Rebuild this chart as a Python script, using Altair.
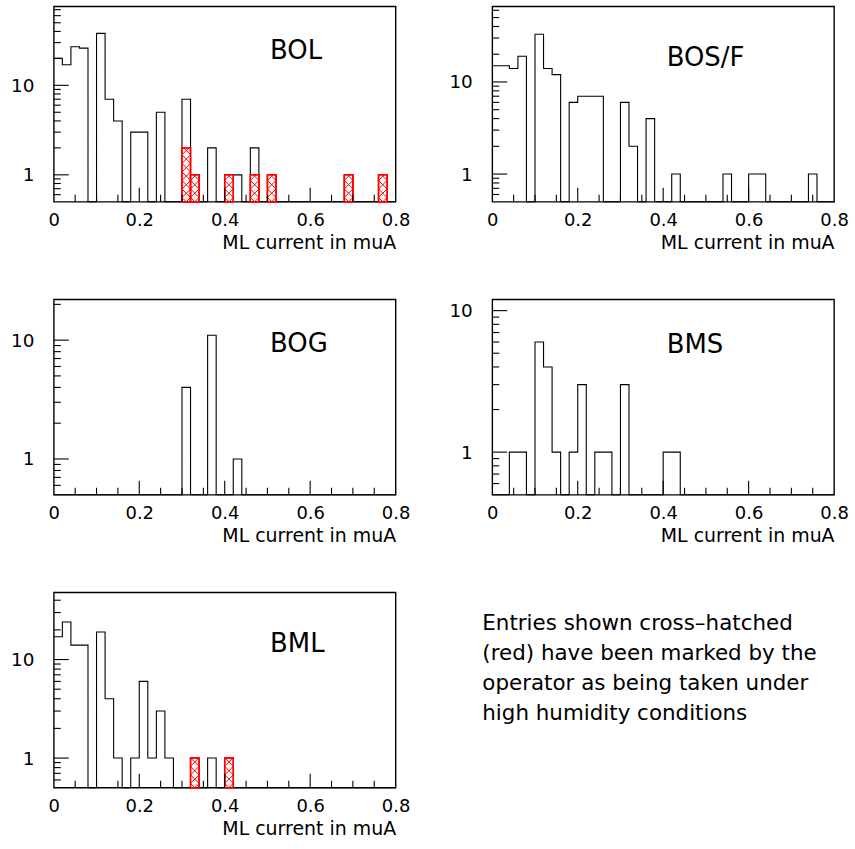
import altair as alt
import numpy as np
import pandas as pd

# ---- histogram contents: 40 bins of 0.02 muA between 0 and 0.8 ----
bin_width = 0.02
n_bins = 40

bol_counts = [20, 17, 27, 26, 0, 38, 7, 4, 0, 3,
              3, 0, 5, 0, 0, 7, 1, 0, 2, 0,
              1, 1, 0, 2, 0, 1, 0, 0, 0, 0,
              0, 0, 0, 0, 1, 0, 0, 0, 1, 0]
bol_humid = [0, 0, 0, 0, 0, 0, 0, 0, 0, 0,
             0, 0, 0, 0, 0, 2, 1, 0, 0, 0,
             1, 0, 0, 1, 0, 1, 0, 0, 0, 0,
             0, 0, 0, 0, 1, 0, 0, 0, 1, 0]

bosf_counts = [15, 15, 14, 19, 0, 33, 14, 12, 0, 6,
               7, 7, 7, 0, 0, 6, 2, 0, 4, 0,
               0, 1, 0, 0, 0, 0, 0, 1, 0, 0,
               1, 1, 0, 0, 0, 0, 0, 1, 0, 0]

bog_counts = [0, 0, 0, 0, 0, 0, 0, 0, 0, 0,
              0, 0, 0, 0, 0, 4, 0, 0, 11, 0,
              0, 1, 0, 0, 0, 0, 0, 0, 0, 0,
              0, 0, 0, 0, 0, 0, 0, 0, 0, 0]

bms_counts = [0, 0, 1, 1, 0, 6, 4, 1, 0, 1,
              3, 0, 1, 1, 0, 3, 0, 0, 0, 0,
              1, 1, 0, 0, 0, 0, 0, 0, 0, 0,
              0, 0, 0, 0, 0, 0, 0, 0, 0, 0]

bml_counts = [17, 24, 14, 14, 0, 19, 4, 1, 0, 1,
              6, 1, 3, 1, 0, 0, 1, 0, 1, 0,
              1, 0, 0, 0, 0, 0, 0, 0, 0, 0,
              0, 0, 0, 0, 0, 0, 0, 0, 0, 0]
bml_humid = [0, 0, 0, 0, 0, 0, 0, 0, 0, 0,
             0, 0, 0, 0, 0, 0, 1, 0, 0, 0,
             1, 0, 0, 0, 0, 0, 0, 0, 0, 0,
             0, 0, 0, 0, 0, 0, 0, 0, 0, 0]

no_humid = [0] * n_bins

x_labels = [0, 0.2, 0.4, 0.6, 0.8]
x_minor = [0.05, 0.1, 0.15, 0.25, 0.3, 0.35, 0.45, 0.5, 0.55, 0.65, 0.7, 0.75]
y_labels = [1, 10]
y_minor = [0.6, 0.7, 0.8, 0.9, 2, 3, 4, 5, 6, 7, 8, 9, 20, 30, 40, 50, 60, 70, 80, 90]

note_lines = ["Entries shown cross\u2013hatched",
              "(red) have been marked by the",
              "operator as being taken under",
              "high humidity conditions"]

x_title = "ML current in muA"

# ---- drawing parameters ----
W, H = 343, 196
FONT = "DejaVu Sans"
YMIN = 0.5


def hatch_table(lo, hi, count, ymax):
    """Cross-hatch segments for one flagged bin, returned in data units."""
    w = W * (hi - lo) / 0.8
    dec = H / np.log10(ymax / YMIN)
    h = dec * np.log10(count / YMIN)
    step = w
    rows = []

    def to_data(px, py):
        return lo + px / w * (hi - lo), YMIN * 10 ** (py / dec)

    for j in range(-4, int(h / step) + 6):
        k = -w / 2 + j * step          # rising lines  y = x + k
        x0, x1 = max(0.0, -k), min(w, h - k)
        if x1 - x0 > 0.05:
            a, b = to_data(x0, x0 + k)
            c, d = to_data(x1, x1 + k)
            rows.append((a, c, b, d))
        k = w / 2 + j * step           # falling lines y = -x + k
        x0, x1 = max(0.0, k - h), min(w, k)
        if x1 - x0 > 0.05:
            a, b = to_data(x0, k - x0)
            c, d = to_data(x1, k - x1)
            rows.append((a, c, b, d))
    return rows


def panel(name, counts, humid, label_x, label_y):
    ymax = 2 * max(counts)
    edges = [round(i * bin_width, 4) for i in range(n_bins + 1)]

    xs = alt.Scale(domain=[0, 0.8], nice=False, zero=False)
    ys = alt.Scale(type="log", domain=[YMIN, ymax], nice=False)
    xaxis = alt.Axis(values=x_labels, format="~g", ticks=False, domain=False, grid=False,
                     labelFlush=False, labelOverlap=False, labelPadding=10,
                     labelFontSize=18, labelColor="black", labelFont=FONT,
                     title=x_title, titleFont=FONT, titleFontSize=19, titleFontWeight="normal",
                     titleColor="black", titleAnchor="end", titleAlign="right",
                     titleBaseline="alphabetic", titleX=W, titleY=47)
    yaxis = alt.Axis(values=y_labels, format="~g", ticks=False, domain=False, grid=False,
                     labelOverlap=False, labelPadding=20, labelFontSize=18.5,
                     labelColor="black", labelFont=FONT, title=None)

    def X():
        return alt.X("x:Q", scale=xs, axis=xaxis)

    def Y():
        return alt.Y("y:Q", scale=ys, axis=yaxis)

    # outline of the full histogram (empty bins drop to the lower edge)
    step_df = pd.DataFrame({
        "x": edges,
        "y": [max(c, YMIN) for c in counts] + [max(counts[-1], YMIN)],
    })
    layers = [
        alt.Chart(step_df).mark_line(interpolate="step-after", color="black", strokeWidth=1.1)
        .encode(x=X(), y=Y())
    ]

    # entries flagged as high humidity: red cross-hatched boxes
    flagged = [(edges[i], edges[i + 1], r) for i, r in enumerate(humid) if r > 0]
    if flagged:
        box_df = pd.DataFrame(flagged, columns=["x", "x2", "y"])
        box_df["y2"] = YMIN
        hatch_rows = []
        for lo, hi, r in flagged:
            hatch_rows += hatch_table(lo, hi, r, ymax)
        hatch_df = pd.DataFrame(hatch_rows, columns=["x", "x2", "y", "y2"])
        layers += [
            alt.Chart(box_df).mark_rect(fill="white", stroke="red", strokeWidth=1.4)
            .encode(x=X(), x2="x2", y=Y(), y2="y2"),
            alt.Chart(hatch_df).mark_rule(color="red", strokeWidth=1)
            .encode(x=X(), x2="x2", y=Y(), y2="y2"),
            alt.Chart(box_df).mark_rect(fillOpacity=0, stroke="red", strokeWidth=1.5)
            .encode(x=X(), x2="x2", y=Y(), y2="y2"),
        ]

    # inward tick marks
    ymaj = pd.DataFrame({"y": [v for v in y_labels if YMIN < v < ymax]})
    ymin_t = pd.DataFrame({"y": [v for v in y_minor if YMIN < v < ymax]})
    xmaj = pd.DataFrame({"x": x_labels[1:-1]})
    xmin_t = pd.DataFrame({"x": x_minor})
    layers += [
        alt.Chart(ymaj).mark_rule(color="black", strokeWidth=1.1)
        .encode(y=Y(), x=alt.value(0), x2=alt.value(15)),
        alt.Chart(ymin_t).mark_rule(color="black", strokeWidth=1.1)
        .encode(y=Y(), x=alt.value(0), x2=alt.value(7)),
        alt.Chart(xmaj).mark_rule(color="black", strokeWidth=1.1)
        .encode(x=X(), y=alt.value(H), y2=alt.value(H - 14)),
        alt.Chart(xmin_t).mark_rule(color="black", strokeWidth=1.1)
        .encode(x=X(), y=alt.value(H), y2=alt.value(H - 7)),
    ]

    # chamber type label
    layers.append(
        alt.Chart(pd.DataFrame({"label": [name]}))
        .mark_text(align="left", baseline="alphabetic", fontSize=26, font=FONT, color="black")
        .encode(x=alt.value(label_x), y=alt.value(label_y), text="label:N")
    )
    return alt.layer(*layers).properties(width=W, height=H)


note = (
    alt.Chart(pd.DataFrame({"t": ["\n".join(note_lines)]}))
    .mark_text(align="left", baseline="alphabetic", fontSize=21.5, font=FONT,
               color="black", lineBreak="\n", lineHeight=30)
    .encode(x=alt.value(-10), y=alt.value(38), text="t:N")
    .properties(width=W, height=H, view=alt.ViewBackground(stroke="transparent"))
)

chart = (
    alt.concat(
        panel("BOL", bol_counts, bol_humid, 217, 53),
        panel("BOS/F", bosf_counts, no_humid, 175, 60),
        panel("BOG", bog_counts, no_humid, 217, 53),
        panel("BMS", bms_counts, no_humid, 175, 54),
        panel("BML", bml_counts, bml_humid, 217, 60),
        note,
        columns=2,
        spacing=alt.RowColnumber(row=98, column=97),
        bounds="flush",
    )
    .properties(padding={"left": 9, "top": 4, "right": 5, "bottom": 5}, background="white")
    .configure(font=FONT)
    .configure_view(stroke="black", strokeWidth=1.4)
)

chart.save("out.html", embed_options={"renderer": "svg", "actions": False})
